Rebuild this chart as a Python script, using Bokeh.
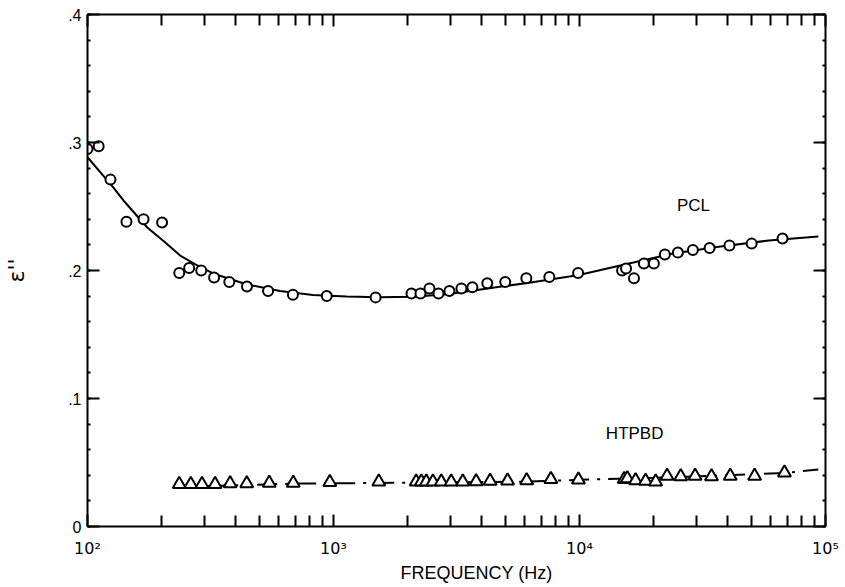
from bokeh.plotting import figure
from bokeh.models import FixedTicker, LinearAxis, LogAxis, Label, Range1d, Title
from bokeh.embed import file_html
from bokeh.resources import INLINE

# ---- data ----
pcl_freq = [100, 111, 124, 144, 169, 201, 236, 259, 290, 327, 377, 445, 542, 684, 939, 1483,
            2075, 2257, 2455, 2672, 2960, 3311, 3670, 4220, 4990, 6080, 7540, 9870,
            14900, 15460, 16650, 18270, 20060, 22230, 25120, 28900, 33800, 40700, 50100, 66900]
pcl_eps = [0.295, 0.297, 0.271, 0.238, 0.240, 0.2375, 0.198, 0.202, 0.200, 0.1945, 0.191, 0.1875,
           0.184, 0.181, 0.180, 0.179, 0.182, 0.182, 0.186, 0.182, 0.184, 0.186, 0.187,
           0.190, 0.191, 0.194, 0.195, 0.198, 0.200, 0.2015, 0.194, 0.2055, 0.2055, 0.2125,
           0.214, 0.216, 0.2175, 0.2195, 0.221, 0.225]

pcl_fit_freq = [100, 127.5, 140, 175, 206, 238, 280, 324, 445, 606, 824, 1130, 1540, 2100,
                2900, 3900, 6250, 9950, 15900, 23700, 36800, 58700, 93500]
pcl_fit_eps = [0.2885, 0.2648, 0.2547, 0.2336, 0.2223, 0.2117, 0.2039, 0.1977, 0.1891, 0.1840,
               0.1809, 0.1797, 0.1791, 0.1795, 0.1815, 0.185, 0.1905, 0.1965, 0.2055, 0.213,
               0.2185, 0.2234, 0.2266]

htpbd_freq = [236, 263, 292, 330, 380, 444, 548, 686, 966, 1528, 2167, 2275, 2384, 2537, 2742,
              3009, 3353, 3800, 4330, 5100, 6100, 7650, 9900, 15200, 15650, 16900, 18560,
              20400, 22700, 25800, 29500, 34400, 41000, 51500, 68100]
htpbd_eps = [0.033, 0.033, 0.033, 0.033, 0.0335, 0.0335, 0.034, 0.034, 0.0345, 0.035, 0.035,
             0.035, 0.035, 0.035, 0.035, 0.035, 0.035, 0.0352, 0.0355, 0.0357, 0.036, 0.037,
             0.0365, 0.037, 0.0375, 0.036, 0.0355, 0.035, 0.0395, 0.039, 0.0395, 0.039,
             0.0395, 0.0395, 0.042]

htpbd_fit_freq = [236, 700, 1500, 3000, 6000, 10000, 20000, 40000, 68000, 93500]
htpbd_fit_eps = [0.031, 0.0335, 0.034, 0.0345, 0.035, 0.0365, 0.038, 0.040, 0.0418, 0.0445]

x_major = [100, 1000, 10000, 100000]
x_major_labels = ["10²", "10³", "10⁴", "10⁵"]
x_minor = [m * d for d in (100, 1000, 10000) for m in range(2, 10)]
y_major = [0, 0.1, 0.2, 0.3, 0.4]
y_major_labels = ["0", ".1", ".2", ".3", ".4"]
y_minor = [round(i * 0.02, 2) for i in range(21)]

FONT = "Liberation Sans"

p = figure(width=845, height=587, x_axis_type="log",
           x_range=Range1d(100, 100000), y_range=Range1d(0, 0.4),
           output_backend="svg", toolbar_location=None,
           min_border_left=87, min_border_right=20, min_border_top=14, min_border_bottom=61)
p.grid.visible = False
p.outline_line_color = None
p.background_fill_color = "white"
p.border_fill_color = "white"


def style_axis(ax, minor_len):
    ax.axis_line_width = 2
    ax.axis_line_color = "black"
    ax.major_tick_line_width = 2
    ax.minor_tick_line_width = 2
    ax.major_tick_in = 12
    ax.major_tick_out = 0
    ax.minor_tick_in = minor_len
    ax.minor_tick_out = 0


def hide_labels(ax):
    ax.major_label_text_font_size = "1px"
    ax.major_label_text_alpha = 0
    ax.major_label_standoff = 0


bx = p.xaxis[0]
bx.ticker = FixedTicker(ticks=x_major, minor_ticks=x_minor)
style_axis(bx, 11)
bx.major_label_overrides = {v: s for v, s in zip(x_major, x_major_labels)}
bx.major_label_text_font = "DejaVu Sans"
bx.major_label_text_font_size = "16px"
bx.major_label_text_color = "black"
bx.major_label_standoff = 12

ly = p.yaxis[0]
ly.ticker = FixedTicker(ticks=y_major, minor_ticks=y_minor)
style_axis(ly, 3)
ly.major_label_overrides = {v: s for v, s in zip(y_major, y_major_labels)}
ly.major_label_text_font = FONT
ly.major_label_text_font_size = "16px"
ly.major_label_text_color = "black"
ly.major_label_standoff = 6
ly.axis_label = "ε''"
ly.axis_label_text_font = "DejaVu Sans"
ly.axis_label_text_font_style = "normal"
ly.axis_label_text_font_size = "22px"
ly.axis_label_text_color = "black"
ly.axis_label_standoff = 36

top = LogAxis(ticker=FixedTicker(ticks=x_major, minor_ticks=x_minor))
style_axis(top, 11)
hide_labels(top)
p.add_layout(top, "above")

right = LinearAxis(ticker=FixedTicker(ticks=y_major, minor_ticks=y_minor))
style_axis(right, 3)
hide_labels(right)
p.add_layout(right, "right")

# x axis title
xtitle = Title(text="FREQUENCY (Hz)", align="left", offset=313, text_font=FONT,
               text_font_size="18px", text_font_style="normal", text_color="black",
               standoff=0)
p.add_layout(xtitle, "below")

# fitted curves
p.line(pcl_fit_freq, pcl_fit_eps, line_color="black", line_width=2)
p.line(htpbd_fit_freq, htpbd_fit_eps, line_color="black", line_width=2, line_dash="20 8 3 8")

# data points
p.scatter(pcl_freq, pcl_eps, marker="circle", size=10, fill_color="white",
          line_color="black", line_width=2)
p.scatter(htpbd_freq, htpbd_eps, marker="triangle", size=13, fill_color="white",
          line_color="black", line_width=2)

# series labels
p.add_layout(Label(x=24900, y=0.2508, text="PCL", text_font=FONT, text_font_size="17px",
                   text_baseline="middle", text_align="left", text_color="black"))
p.add_layout(Label(x=12800, y=0.0723, text="HTPBD", text_font=FONT, text_font_size="17px",
                   text_baseline="middle", text_align="left", text_color="black"))

open("out.html", "w").write(file_html(p, INLINE))
